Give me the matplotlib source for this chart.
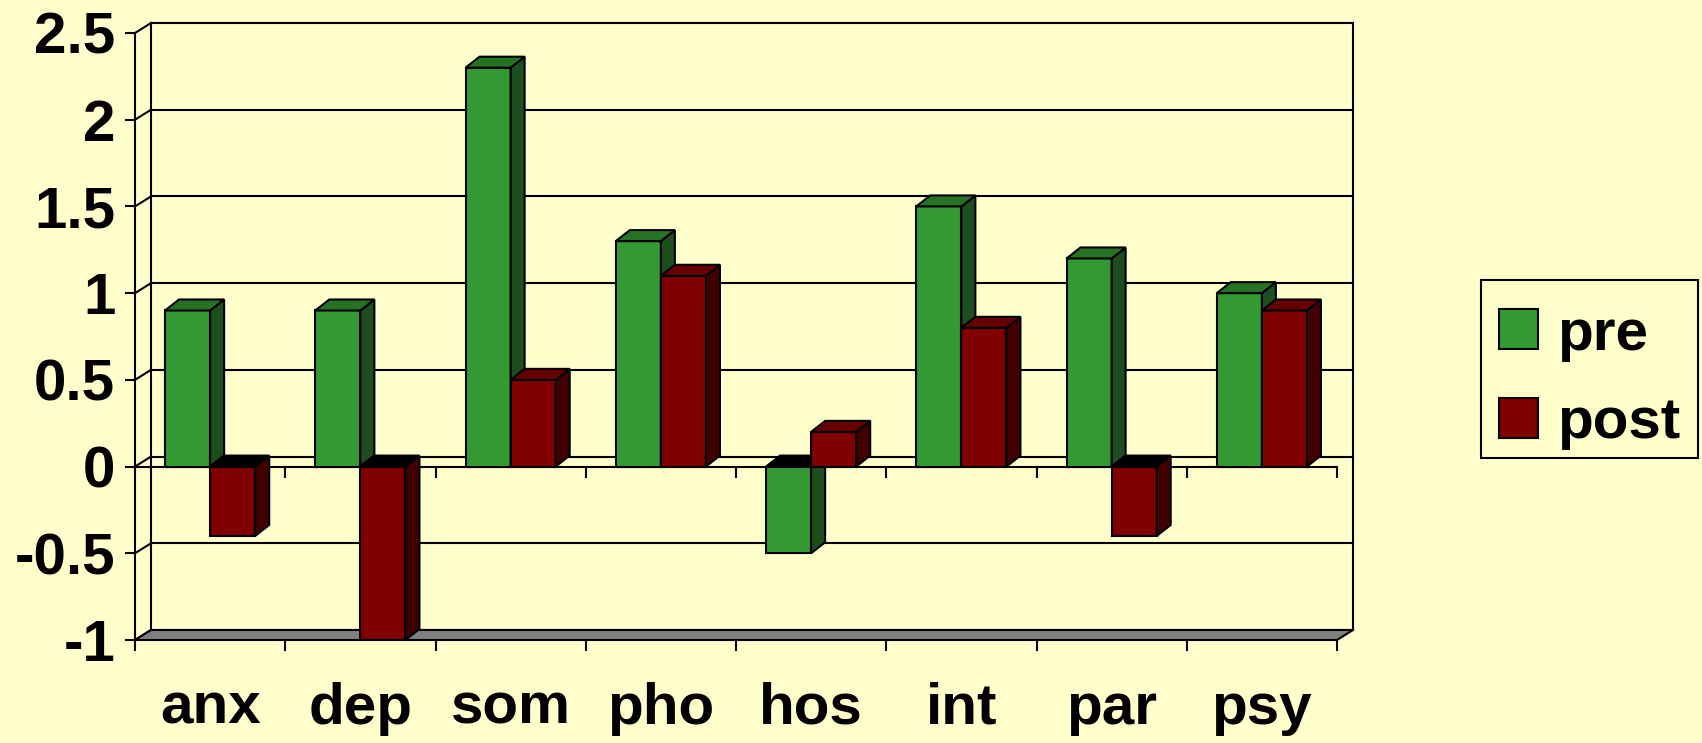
import matplotlib.pyplot as plt
from matplotlib.patches import Polygon, Patch
from matplotlib.path import Path

categories = ['anx', 'dep', 'som', 'pho', 'hos', 'int', 'par', 'psy']
pre = [0.9, 0.9, 2.3, 1.3, -0.5, 1.5, 1.2, 1.0]
post = [-0.4, -1.0, 0.5, 1.1, 0.2, 0.8, -0.4, 0.9]
y_ticks = [-1, -0.5, 0, 0.5, 1, 1.5, 2, 2.5]
y_labels = ['-1', '-0.5', '0', '0.5', '1', '1.5', '2', '2.5']

BG = '#FFFFCC'
# front, side, top colours
series = [('pre', pre, ('#339933', '#1E4D1E', '#267326')),
          ('post', post, ('#800000', '#400000', '#660000'))]

plt.rcParams['font.family'] = ['Liberation Sans', 'DejaVu Sans']
plt.rcParams['font.weight'] = 'bold'

W, H = 1702, 743
fig = plt.figure(figsize=(W / 100, H / 100), dpi=100, facecolor=BG)
ax = fig.add_axes([135 / W, 1 - 640 / H, 1202 / W, 607 / H])
n = len(categories)
ymin, ymax = y_ticks[0], y_ticks[-1]
ax.set_xlim(0, n)
ax.set_ylim(ymin, ymax)
ax.patch.set_visible(False)

# pixel -> data sizes for the fake depth
px_x = 1202 / n
px_y = 607 / (ymax - ymin)
wdx, wdy = 16 / px_x, 10 / px_y   # walls
bdx, bdy = 14 / px_x, 11 / px_y   # bars
lw = 1.5

# back wall grid + side wall diagonals
for v in y_ticks:
    ax.plot([wdx, n + wdx], [v + wdy, v + wdy], color='k', lw=lw, zorder=1, clip_on=False)
    ax.plot([0, wdx], [v, v + wdy], color='k', lw=lw, zorder=1, clip_on=False)
ax.plot([wdx, wdx], [ymin + wdy, ymax + wdy], color='k', lw=lw, zorder=1, clip_on=False)
ax.plot([n + wdx, n + wdx], [ymin + wdy, ymax + wdy], color='k', lw=lw, zorder=1, clip_on=False)

# floor
floor = Polygon([(0, ymin), (n, ymin), (n + wdx, ymin + wdy), (wdx, ymin + wdy)],
                closed=True, facecolor='#808080', edgecolor='k', lw=lw, zorder=2, clip_on=False)
ax.add_patch(floor)

# zero line in front with ticks
tick_len = 11 / px_y
ax.plot([0, n], [0, 0], color='k', lw=lw, zorder=2, clip_on=False)
ax.vlines(range(1, n + 1), -tick_len, 0, color='k', lw=lw, zorder=2, clip_on=False)

# bars with side and top faces
bw = 0.3
for k, (name, vals, (cf, cs, ct)) in enumerate(series):
    z = 3 + k
    xs = [i + 0.5 + (k - 0.5) * bw for i in range(n)]
    ax.bar(xs, vals, width=bw, color=cf, edgecolor='k', linewidth=lw, zorder=z)
    for x, v in zip(xs, vals):
        x0, x1 = x - bw / 2, x + bw / 2
        lo, hi = min(v, 0), max(v, 0)
        side = Polygon([(x1, lo), (x1, hi), (x1 + bdx, hi + bdy), (x1 + bdx, lo + bdy)],
                       closed=True, facecolor=cs, edgecolor='k', lw=lw, zorder=z, clip_on=False)
        top = Polygon([(x0, hi), (x1, hi), (x1 + bdx, hi + bdy), (x0 + bdx, hi + bdy)],
                      closed=True, facecolor=ct if v >= 0 else 'k', edgecolor='k', lw=lw,
                      zorder=z, clip_on=False)
        ax.add_patch(side)
        ax.add_patch(top)

# axes
for s in ['top', 'right', 'bottom']:
    ax.spines[s].set_visible(False)
ax.spines['left'].set_linewidth(lw)
ax.spines['left'].set_zorder(2)
ax.set_yticks(y_ticks, y_labels)
ax.tick_params(axis='y', length=7.2, width=lw, pad=7, labelsize=42)
ax.set_xticks([i + 0.5 for i in range(n)], categories)
ax.set_xticks(range(n + 1), minor=True)
ax.tick_params(axis='x', which='major', length=0, pad=30, labelsize=42)
ax.tick_params(axis='x', which='minor', length=8, width=lw)

handles = [Patch(facecolor=c[0], edgecolor='k', lw=lw) for _, _, c in series]
leg = fig.legend(handles, [s[0] for s in series], loc='upper left',
                 bbox_to_anchor=(1481 / W, 1 - 290 / H), fontsize=42,
                 fancybox=False, edgecolor='k', facecolor=BG, framealpha=1,
                 handlelength=0.67, handleheight=0.67, handletextpad=0.34,
                 borderpad=0.3, labelspacing=0.6, borderaxespad=0)


# legend frame: a bit more room on top, less below the text descent
def frame_style(x0, y0, width, height, mutation_size):
    top = y0 + height + 10
    bottom = y0 + 10
    return Path([(x0, bottom), (x0 + width, bottom), (x0 + width, top), (x0, top), (x0, bottom)],
                closed=True)


leg.get_frame().set_boxstyle(frame_style)
leg.get_frame().set_linewidth(lw)

fig.savefig('out.png', dpi=100, facecolor=BG)
